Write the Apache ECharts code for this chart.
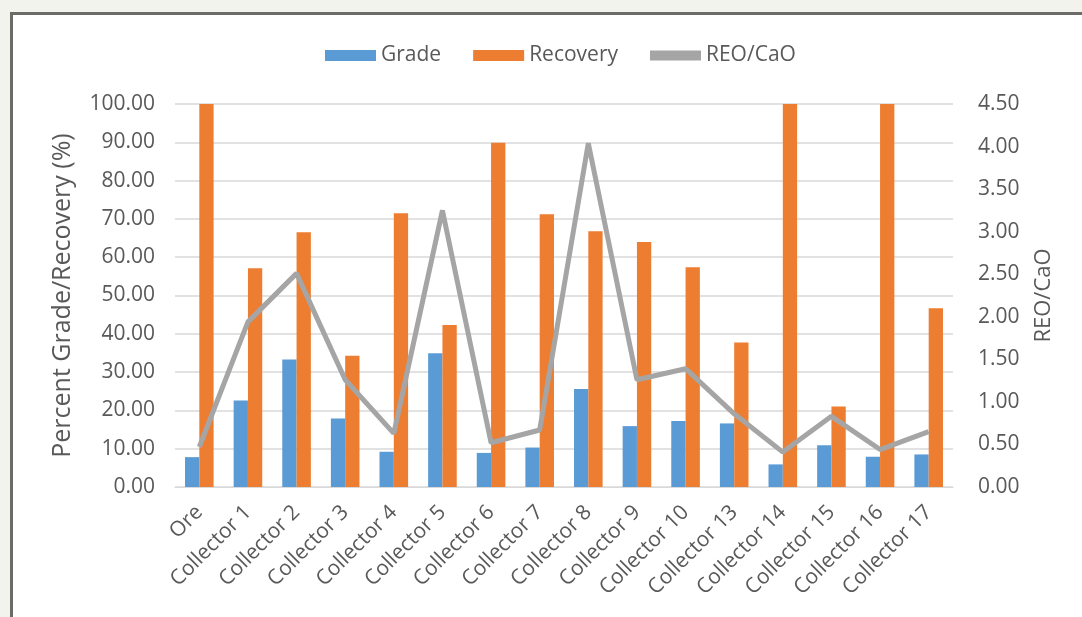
<!DOCTYPE html>
<html>
<head>
<meta charset="utf-8">
<script src="https://cdn.jsdelivr.net/npm/echarts@6/dist/echarts.min.js"></script>
<style>
  html, body { margin: 0; padding: 0; background: #f3f3ee; width: 1082px; height: 617px; overflow: hidden; }
  #panel { position: absolute; left: 10px; top: 12px; width: 1072px; height: 605px; background: #ffffff; border-top: 3px solid #6b6b68; border-left: 3px solid #6b6b68; box-sizing: border-box; }
  #chart { position: absolute; left: 0; top: 0; width: 1082px; height: 617px; }
</style>
</head>
<body>
<div id="panel"></div>
<div id="chart"></div>
<script>
const categories = ['Ore', 'Collector 1', 'Collector 2', 'Collector 3', 'Collector 4', 'Collector 5', 'Collector 6', 'Collector 7', 'Collector 8', 'Collector 9', 'Collector 10', 'Collector 13', 'Collector 14', 'Collector 15', 'Collector 16', 'Collector 17'];
const grade = [7.8, 22.6, 33.3, 17.9, 9.2, 34.9, 8.9, 10.3, 25.6, 15.9, 17.2, 16.6, 5.9, 10.9, 7.9, 8.5];
const recovery = [100, 57.1, 66.5, 34.3, 71.5, 42.3, 89.9, 71.2, 66.8, 64.0, 57.4, 37.7, 100, 21.0, 100, 46.7];
const reoCao = [0.47, 1.94, 2.51, 1.26, 0.63, 3.25, 0.52, 0.67, 4.04, 1.26, 1.39, 0.86, 0.41, 0.83, 0.44, 0.65];

const chart = echarts.init(document.getElementById('chart'));
const txt = '#595959';
const font = 'Open Sans';
chart.setOption({
  animation: false,
  textStyle: { fontFamily: font, color: txt },
  legend: {
    top: 40,
    left: 320,
    itemWidth: 51,
    itemHeight: 11,
    itemGap: 32,
    textStyle: { fontSize: 21, color: txt, fontFamily: font },
    data: [
      { name: 'Grade', icon: 'rect' },
      { name: 'Recovery', icon: 'rect' },
      { name: 'REO/CaO', icon: 'path://M0,0 L10,0 L10,2 L0,2 Z', itemStyle: { color: '#a5a5a5' } }
    ]
  },
  grid: { left: 175, right: 129, top: 104, bottom: 130, containLabel: false },
  xAxis: {
    type: 'category',
    data: categories,
    axisLine: { lineStyle: { color: '#d9d9d9', width: 1 } },
    axisTick: { show: false },
    axisLabel: { rotate: 45, fontSize: 21, color: txt, margin: 22, interval: 0, fontFamily: font }
  },
  yAxis: [
    {
      type: 'value', min: 0, max: 100, interval: 10,
      name: 'Percent Grade/Recovery (%)',
      nameLocation: 'middle', nameGap: 100, nameRotate: 90,
      nameTextStyle: { fontSize: 25, color: txt, fontFamily: font },
      axisLine: { show: false }, axisTick: { show: false },
      splitLine: { lineStyle: { color: '#d9d9d9', width: 1.5 } },
      axisLabel: { formatter: v => v.toFixed(2), fontSize: 21, color: txt, margin: 20, fontFamily: font }
    },
    {
      type: 'value', min: 0, max: 4.5, interval: 0.5,
      name: 'REO/CaO',
      nameLocation: 'middle', nameGap: 80, nameRotate: 90,
      nameTextStyle: { fontSize: 22, color: txt, fontFamily: font },
      axisLine: { show: false }, axisTick: { show: false },
      splitLine: { show: false },
      axisLabel: { formatter: v => v.toFixed(2), fontSize: 21, color: txt, margin: 25, fontFamily: font }
    }
  ],
  series: [
    { name: 'Grade', type: 'bar', data: grade, barWidth: 14.3, barGap: '0%', itemStyle: { color: '#5b9bd5' } },
    { name: 'Recovery', type: 'bar', data: recovery, barWidth: 14.3, barGap: '0%', itemStyle: { color: '#ed7d31' } },
    { name: 'REO/CaO', type: 'line', yAxisIndex: 1, data: reoCao, showSymbol: false, symbol: 'none', lineStyle: { color: '#a5a5a5', width: 5 }, itemStyle: { color: '#a5a5a5' } }
  ]
});
</script>
</body>
</html>
